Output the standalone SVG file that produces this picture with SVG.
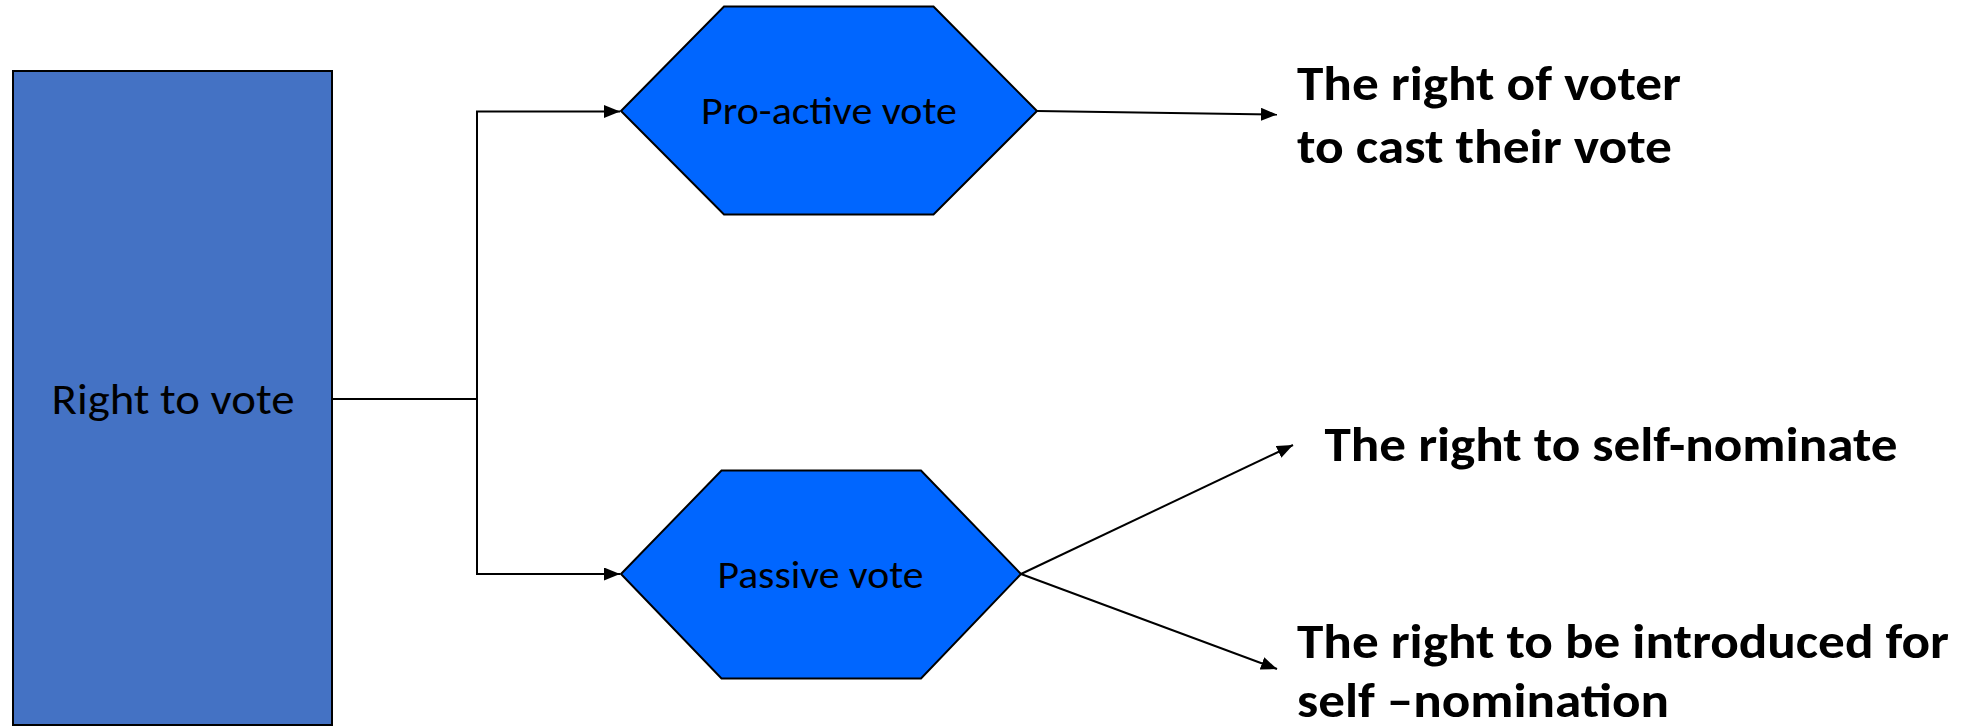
<svg xmlns="http://www.w3.org/2000/svg" width="1978" height="727" viewBox="0 0 1978 727">
<style>
.bg{fill:#ffffff}
.rectnode{fill:#4472C4;stroke:#000;stroke-width:2}
.hex{fill:#0066FF;stroke:#000;stroke-width:2}
.lbl{font-family:Carlito,Calibri,Lato,"Open Sans",sans-serif;fill:#000;text-anchor:middle}
.big{font-family:Carlito,Calibri,Lato,"Open Sans",sans-serif;fill:#000;font-weight:bold;font-size:48px}
.conn{fill:none;stroke:#000;stroke-width:2}
</style>
<defs>
<marker id="arr" markerUnits="userSpaceOnUse" markerWidth="17" markerHeight="14" refX="16" refY="6.5" orient="auto">
<path d="M0,0 L16,6.5 L0,13 z" fill="#000"/>
</marker>
</defs>
<rect class="bg" x="0" y="0" width="1978" height="727"/>
<g id="connectors">
<polyline class="conn" points="332,399 477,399"/>
<polyline class="conn" points="477,574 477,111.5 620,111.5" marker-end="url(#arr)"/>
<polyline class="conn" points="477,399 477,574 620,574" marker-end="url(#arr)"/>
<line class="conn" x1="1037" y1="111" x2="1277" y2="114.5" marker-end="url(#arr)"/>
<line class="conn" x1="1021" y1="574" x2="1293" y2="445" marker-end="url(#arr)"/>
<line class="conn" x1="1021" y1="574" x2="1277" y2="669" marker-end="url(#arr)"/>
</g>
<g id="right-to-vote">
<rect class="rectnode" x="13" y="71" width="319" height="654"/>
<text class="lbl" x="173" y="414" font-size="43" textLength="243" lengthAdjust="spacingAndGlyphs">Right to vote</text>
</g>
<g id="pro-active-vote">
<polygon class="hex" points="621,111 724,6.5 933.5,6.5 1037,111 933.5,214.5 724,214.5"/>
<text class="lbl" x="829" y="124" font-size="38" textLength="256" lengthAdjust="spacingAndGlyphs">Pro-active vote</text>
</g>
<g id="passive-vote">
<polygon class="hex" points="621,574 721.5,470.5 921,470.5 1021,574 921,678.5 721.5,678.5"/>
<text class="lbl" x="820.5" y="587.5" font-size="38" textLength="206" lengthAdjust="spacingAndGlyphs">Passive vote</text>
</g>
<g id="voter-right">
<text class="big" x="1297" y="100" textLength="384" lengthAdjust="spacingAndGlyphs">The right of voter</text>
<text class="big" x="1297" y="163" textLength="375" lengthAdjust="spacingAndGlyphs">to cast their vote</text>
</g>
<g id="self-nominate">
<text class="big" x="1324.5" y="461" textLength="573" lengthAdjust="spacingAndGlyphs">The right to self-nominate</text>
</g>
<g id="introduced">
<text class="big" x="1297" y="658" textLength="652" lengthAdjust="spacingAndGlyphs">The right to be introduced for</text>
<text class="big" x="1297" y="717" textLength="372" lengthAdjust="spacingAndGlyphs">self –nomination</text>
</g>
</svg>
